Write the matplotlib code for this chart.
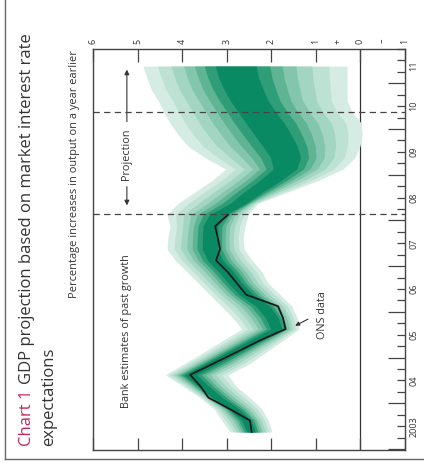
import numpy as np
import matplotlib
matplotlib.use("Agg")
import matplotlib.pyplot as plt
from matplotlib import transforms as mtrans
from matplotlib.lines import Line2D

# ---------------- data ----------------
# quarterly observations 2003 Q2 .. 2011 Q2
years = [2003]*3 + [y for y in range(2004, 2011) for _ in range(4)] + [2011]*2
qtrs = [2, 3, 4] + [1, 2, 3, 4]*7 + [1, 2]

ons_data = [2.44, 2.48, 2.93, 3.41, 3.59, 3.82, 3.29, 2.77, 2.26, 1.68,
            1.74, 1.85, 2.56, 2.77, 2.98, 3.24, 3.15, 3.20, 3.26, 2.97]

fan_upper = [2.93, 3.11, 3.28, 3.60, 3.98, 4.38, 3.94, 3.51, 3.09, 2.66,
             2.87, 3.12, 3.38, 3.63, 3.89, 4.15, 4.34, 4.32, 4.27, 4.34,
             4.09, 3.71, 3.33, 3.02, 3.49, 3.87, 4.09, 4.27, 4.41, 4.54,
             4.70, 4.79, 4.88]
fan_central = [2.45, 2.55, 2.85, 3.25, 3.55, 3.85, 3.35, 2.85, 2.35, 1.85,
               1.95, 2.15, 2.55, 2.80, 3.00, 3.25, 3.35, 3.35, 3.35, 3.15,
               2.63, 2.33, 1.99, 1.69, 1.65, 1.77, 1.95, 2.14, 2.33, 2.52,
               2.66, 2.78, 2.85]
fan_lower = [1.98, 2.07, 2.21, 2.48, 2.79, 2.97, 2.47, 2.11, 1.74, 1.38,
             1.42, 1.54, 1.80, 2.07, 2.21, 2.43, 2.61, 2.63, 2.59, 2.52,
             2.30, 1.62, 0.95, 0.39, 0.12, 0.01, -0.04, -0.02, 0.19, 0.30,
             0.30, 0.30, 0.30]

dashed_lines = [2008.14, 2010.37]
year_labels = ["2003", "04", "05", "06", "07", "08", "09", "10", "11"]
value_ticks = [6, 5, 4, 3, 2, 1, 0, -1]
value_labels = ["6", "5", "4", "3", "2", "1", "+", "0", "\u2013", "1"]
value_label_pos = [6, 5, 4, 3, 2, 1, 0.5, 0, -0.5, -1]

# ---------------- figure ----------------
W, H = 424, 466
FONT = ["Open Sans", "DejaVu Sans"]
plt.rcParams["font.family"] = FONT
fig = plt.figure(figsize=(W/100, H/100), dpi=100)
ax = fig.add_axes([93/W, 1-450/H, (405-93)/W, (450-49)/H])

t = np.array([y + (q - 0.5)/4 for y, q in zip(years, qtrs)])
U = np.array(fan_upper); C = np.array(fan_central); L = np.array(fan_lower)

fan_colors = ["#d4ece3", "#bde2d4", "#a2d5c2", "#83c6ad", "#5eb493", "#2f9d77", "#0a8a63"]
fracs = [1.0, 0.84, 0.69, 0.55, 0.43, 0.32, 0.20]
for f, col in zip(fracs, fan_colors):
    ax.fill_betweenx(t, C - f*(C - L), C + f*(U - C), color=col, lw=0, zorder=2)

ax.plot(ons_data, t[:len(ons_data)], color="#1a1a1a", lw=1.3, zorder=4)

ax.axvline(0, color="#333333", lw=0.9, zorder=1)
for d in dashed_lines:
    ax.axhline(d, color="#444444", lw=0.9, ls=(0, (5, 3.5)), zorder=5)

ax.set_xlim(6, -1)
ax.set_ylim(2002.98, 2011.75)

for s in ax.spines.values():
    s.set_color("#444444"); s.set_linewidth(1.0)

ax.set_xticks(value_ticks)
ax.tick_params(axis="x", which="major", direction="in", top=True, bottom=True,
               labeltop=False, labelbottom=False, length=9, width=0.9, color="#444444")
ax.yaxis.tick_right()
ax.set_yticks(list(range(2003, 2012)))
ax.set_yticks([y + q/4 for y in range(2003, 2012) for q in (1, 2, 3)], minor=True)
ax.tick_params(axis="y", which="major", direction="in", left=False, right=True,
               labelright=False, labelleft=False, length=12, width=0.9, color="#444444")
ax.tick_params(axis="y", which="minor", direction="in", left=False, right=True,
               length=6, width=0.9, color="#444444")

# value labels along top
trx = mtrans.blended_transform_factory(ax.transData, ax.transAxes)
for p, lab in zip(value_label_pos, value_labels):
    ax.text(p, 1 + 8/401, lab, transform=trx, rotation=90, ha="center", va="center",
            fontsize=6.5, color="#333333", clip_on=False)

# year labels along right
try_ = mtrans.blended_transform_factory(ax.transAxes, ax.transData)
year_pos = [y + 0.5 for y in range(2003, 2011)] + [2011.375]
for p, lab in zip(year_pos, year_labels):
    ax.text(1 + 9/312, p, lab, transform=try_, rotation=90, ha="center", va="center",
            fontsize=6.5, color="#333333", clip_on=False)

# annotations
ax.text(5.24, 2005.58, "Bank estimates of past growth", rotation=90, ha="center",
        va="center", fontsize=7.8, color="#333333")
ax.text(5.24, 2009.45, "Projection", rotation=90, ha="center", va="center",
        fontsize=7.8, color="#333333")
ax.annotate("", xy=(5.24, 2011.36), xytext=(5.24, 2010.10),
            arrowprops=dict(arrowstyle="-|>", color="#333333", lw=0.8, mutation_scale=7))
ax.annotate("", xy=(5.24, 2008.27), xytext=(5.24, 2008.80),
            arrowprops=dict(arrowstyle="-|>", color="#333333", lw=0.8, mutation_scale=7))
ax.text(0.84, 2005.93, "ONS data", rotation=90, ha="center", va="center",
        fontsize=7.8, color="#333333")
ax.annotate("", xy=(1.52, 2005.67), xytext=(1.12, 2005.87),
            arrowprops=dict(arrowstyle="-|>", color="#333333", lw=0.8, mutation_scale=6))

fig.text(75/W, 1 - 50/H, "Percentage increases in output on a year earlier", rotation=90,
         ha="center", va="top", fontsize=7.9, color="#333333")

# title
fig.canvas.draw()
r = fig.canvas.get_renderer()
t1 = fig.text(31/W, 1 - 446/H, "Chart 1", rotation=90, rotation_mode="anchor",
              ha="left", va="baseline", fontsize=12, color="#c4265e")
bb = t1.get_window_extent(r)
fig.text(31/W, (bb.y1 + 6)/H, "GDP projection based on market interest rate", rotation=90,
         rotation_mode="anchor", ha="left", va="baseline", fontsize=12, color="#333333")
fig.text(53/W, 1 - 446/H, "expectations", rotation=90, rotation_mode="anchor",
         ha="left", va="baseline", fontsize=12, color="#333333")

# page frame lines
fig.add_artist(Line2D([5/W, 5/W], [1 - 459/H, 1], transform=fig.transFigure,
                      color="#666666", lw=1.0))
fig.add_artist(Line2D([5/W, 1], [1 - 459/H, 1 - 459/H], transform=fig.transFigure,
                      color="#666666", lw=1.0))

fig.savefig("out.png", dpi=100)
